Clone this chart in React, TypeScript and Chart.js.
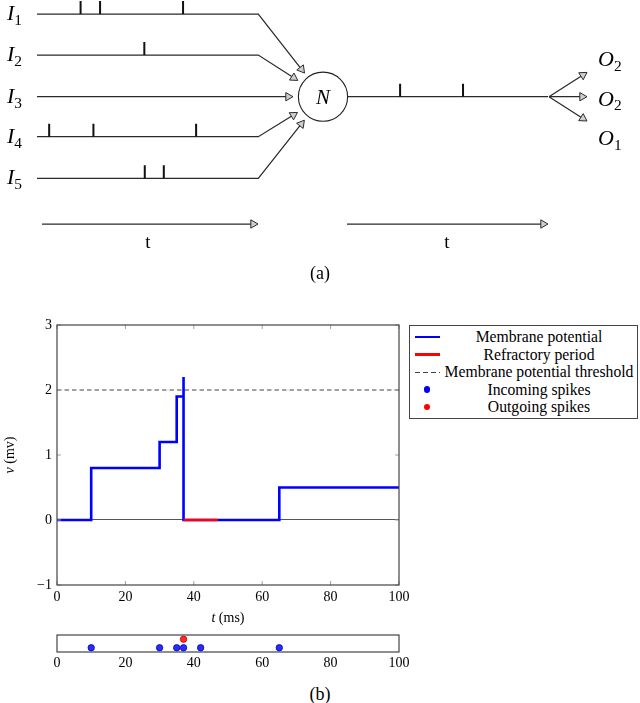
import React, { useEffect, useRef } from "react";
import { Chart, registerables } from "chart.js";
Chart.register(...registerables);

// ---------------- Data ----------------
// (a) spike times along each input / output line (0..100 along the line)
const i1Spikes = [19.7, 28.5, 66.0];
const i2Spikes = [48.5];
const i3Spikes: number[] = [];
const i4Spikes = [5.5, 25.5, 71.9];
const i5Spikes = [48.7, 57.3];
const outSpikes = [26.2, 57.6];
const inputNames = ["1", "2", "3", "4", "5"];
const outputNames = ["2", "2", "1"];

// (b) membrane potential simulation
const potentialTimes = [0, 10, 30, 35, 37, 37, 65, 100];
const potentialValues = [0, 0.8, 1.2, 1.9, 2.2, 0, 0.5, 0.5];
const refractoryTimes = [37, 47];
const refractoryValues = [0, 0];
const thresholdTimes = [0, 100];
const thresholdValues = [2, 2];
const incomingSpikeTimes = [10, 30, 35, 37, 42, 65];
const outgoingSpikeTimes = [37];
const timeTicks = [0, 20, 40, 60, 80, 100];
const voltTicks = [-1, 0, 1, 2, 3];

const seriesLabels = [
  "Membrane potential",
  "Refractory period",
  "Membrane potential threshold",
  "Incoming spikes",
  "Outgoing spikes",
];

// ---------------- Styles / layout ----------------
const BLUE = "#0000ff";
const RED = "#ff0000";
const FONT = '"Liberation Serif", "Times New Roman", serif';
const LINE = "#2a2a2a";

const L = {
  inX0: 37,
  inX1: 258.3,
  inYs: [14, 55, 96.7, 136.7, 178.3],
  cx: 323,
  cy: 96.7,
  r: 24.6,
  tipR: 30,
  outX0: 347.6,
  outX1: 548,
  fanX: 549,
  fanTipX: 587,
  fanDy: 24.3,
  tickH: 13,
  timeY: 224,
  time1: [42, 258],
  time2: [347, 548],
  headR: 4.8,
};

type P = { x: number; y: number | null };

function headAt(fx: number, fy: number, tx: number, ty: number, r: number) {
  const dx = tx - fx;
  const dy = ty - fy;
  const len = Math.hypot(dx, dy);
  const ux = dx / len;
  const uy = dy / len;
  return {
    x: tx - ux * r,
    y: ty - uy * r,
    rot: (Math.atan2(ux, -uy) * 180) / Math.PI,
  };
}

function buildDiagram() {
  const shafts: P[] = [];
  const heads: { x: number; y: number; rot: number }[] = [];
  const ticks: P[] = [];
  const inputSpikes = [i1Spikes, i2Spikes, i3Spikes, i4Spikes, i5Spikes];

  inputSpikes.forEach((spikes, i) => {
    const y = L.inYs[i];
    const dx = L.cx - L.inX1;
    const dy = L.cy - y;
    const len = Math.hypot(dx, dy);
    const tx = L.cx - (dx / len) * L.tipR;
    const ty = L.cy - (dy / len) * L.tipR;
    const h = headAt(L.inX1, y, tx, ty, L.headR);
    shafts.push({ x: L.inX0, y }, { x: L.inX1, y }, { x: h.x, y: h.y }, { x: h.x, y: null });
    heads.push(h);
    spikes.forEach((t) => {
      const x = L.inX0 + (t / 100) * (L.inX1 - L.inX0);
      ticks.push({ x, y }, { x, y: y - L.tickH }, { x, y: null });
    });
  });

  // output line
  shafts.push({ x: L.outX0, y: L.cy }, { x: L.outX1, y: L.cy }, { x: L.outX1, y: null });
  outSpikes.forEach((t) => {
    const x = L.outX0 + (t / 100) * (L.outX1 - L.outX0);
    ticks.push({ x, y: L.cy }, { x, y: L.cy - L.tickH }, { x, y: null });
  });
  // fan-out arrows
  [-1, 0, 1].forEach((k) => {
    const ty = L.cy + k * L.fanDy;
    const h = headAt(L.fanX, L.cy, L.fanTipX, ty, L.headR);
    shafts.push({ x: L.fanX, y: L.cy }, { x: h.x, y: h.y }, { x: h.x, y: null });
    heads.push(h);
  });
  // time arrows
  [L.time1, L.time2].forEach(([a, b]) => {
    const h = headAt(a, L.timeY, b, L.timeY, L.headR);
    shafts.push({ x: a, y: L.timeY }, { x: h.x, y: h.y }, { x: h.x, y: null });
    heads.push(h);
  });
  return { shafts, heads, ticks };
}

const xy = (xs: number[], ys: number[]) => xs.map((x, i) => ({ x, y: ys[i] }));

const frameMain = {
  id: "frameMain",
  afterDraw(chart: any) {
    const { ctx, chartArea: a, scales } = chart;
    ctx.save();
    ctx.strokeStyle = "#a0a0a0";
    ctx.lineWidth = 1;
    ctx.beginPath();
    scales.x.ticks.forEach((t: any) => {
      const px = scales.x.getPixelForValue(t.value);
      ctx.moveTo(px, a.bottom);
      ctx.lineTo(px, a.bottom - 4);
      ctx.moveTo(px, a.top);
      ctx.lineTo(px, a.top + 4);
    });
    scales.y.ticks.forEach((t: any) => {
      const py = scales.y.getPixelForValue(t.value);
      ctx.moveTo(a.left, py);
      ctx.lineTo(a.left + 4, py);
      ctx.moveTo(a.right, py);
      ctx.lineTo(a.right - 4, py);
    });
    ctx.stroke();
    ctx.strokeStyle = "#444";
    ctx.lineWidth = 1.2;
    ctx.strokeRect(a.left, a.top, a.right - a.left, a.bottom - a.top);
    ctx.restore();
  },
};

const frameStrip = {
  id: "frameStrip",
  beforeDatasetsDraw(chart: any) {
    const { ctx, chartArea: a } = chart;
    ctx.save();
    ctx.strokeStyle = "#444";
    ctx.lineWidth = 1.2;
    ctx.strokeRect(a.left, a.top, a.right - a.left, a.bottom - a.top);
    ctx.restore();
  },
};

const fmt = (v: number) => (v < 0 ? "\u2212" + Math.abs(v) : String(v));

function measure(text: string, font: string) {
  const c = document.createElement("canvas").getContext("2d");
  if (!c) return 0;
  c.font = font;
  return c.measureText(text).width;
}

function Txt(props: {
  x: number;
  y: number;
  size: number;
  italic?: boolean;
  align?: "left" | "center";
  children: React.ReactNode;
}) {
  const { x, y, size, italic, align = "center", children } = props;
  return (
    <div
      style={{
        position: "absolute",
        left: x,
        top: y,
        transform: align === "center" ? "translate(-50%,-50%)" : "translateY(-50%)",
        fontSize: size,
        fontStyle: italic ? "italic" : "normal",
        lineHeight: 1,
        whiteSpace: "nowrap",
        color: "#000",
      }}
    >
      {children}
    </div>
  );
}

function Sub({ children }: { children: React.ReactNode }) {
  return (
    <span style={{ position: "relative", top: "0.32em", fontSize: "0.7em", fontStyle: "normal" }}>
      {children}
    </span>
  );
}

export default function App() {
  const diagRef = useRef<HTMLCanvasElement>(null);
  const mainRef = useRef<HTMLCanvasElement>(null);
  const stripRef = useRef<HTMLCanvasElement>(null);

  useEffect(() => {
    Chart.defaults.font.family = FONT;
    Chart.defaults.color = "#000";
    const charts: Chart[] = [];
    const d = buildDiagram();

    charts.push(
      new Chart(diagRef.current!, {
        type: "scatter",
        data: {
          datasets: [
            {
              label: "heads",
              data: d.heads.map((h) => ({ x: h.x, y: h.y })),
              pointStyle: "triangle",
              pointRadius: L.headR,
              pointRotation: d.heads.map((h) => h.rot),
              pointBackgroundColor: "#cfcfcf",
              pointBorderColor: LINE,
              pointBorderWidth: 1,
              clip: false,
              order: 0,
            } as any,
            {
              label: "neuron",
              data: [{ x: L.cx, y: L.cy }],
              pointStyle: "circle",
              pointRadius: L.r,
              pointBackgroundColor: "#fff",
              pointBorderColor: "#222",
              pointBorderWidth: 1.1,
              clip: false,
              order: 1,
            } as any,
            {
              label: "spikes",
              data: d.ticks as any,
              showLine: true,
              spanGaps: false,
              borderColor: "#111",
              borderWidth: 2,
              pointRadius: 0,
              borderCapStyle: "butt",
              clip: false,
              order: 2,
            } as any,
            {
              label: "lines",
              data: d.shafts as any,
              showLine: true,
              spanGaps: false,
              borderColor: LINE,
              borderWidth: 1.25,
              pointRadius: 0,
              clip: false,
              order: 3,
            } as any,
          ],
        },
        options: {
          animation: false,
          responsive: false,
          events: [],
          layout: { padding: 0, autoPadding: false },
          plugins: { legend: { display: false }, tooltip: { enabled: false } },
          scales: {
            x: { type: "linear", min: 0, max: 640, display: false },
            y: { type: "linear", min: 0, max: 290, reverse: true, display: false },
          },
        },
      } as any)
    );

    charts.push(
      new Chart(mainRef.current!, {
        type: "scatter",
        data: {
          datasets: [
            {
              label: seriesLabels[1],
              data: xy(refractoryTimes, refractoryValues),
              showLine: true,
              borderColor: RED,
              borderWidth: 2.6,
              pointRadius: 0,
              order: 0,
            },
            {
              label: seriesLabels[0],
              data: xy(potentialTimes, potentialValues),
              showLine: true,
              stepped: "before",
              borderColor: BLUE,
              borderWidth: 2.6,
              pointRadius: 0,
              borderJoinStyle: "miter",
              order: 1,
            } as any,
            {
              label: seriesLabels[2],
              data: xy(thresholdTimes, thresholdValues),
              showLine: true,
              borderColor: "#444",
              borderWidth: 1,
              borderDash: [4.5, 3],
              pointRadius: 0,
              order: 2,
            },
          ],
        },
        options: {
          animation: false,
          responsive: false,
          events: [],
          layout: { padding: { top: 10, right: 11, left: 0, bottom: 0 }, autoPadding: false },
          plugins: { legend: { display: false }, tooltip: { enabled: false } },
          scales: {
            x: {
              type: "linear",
              min: 0,
              max: 100,
              afterBuildTicks: (s: any) => {
                s.ticks = timeTicks.map((v) => ({ value: v }));
              },
              afterFit: (s: any) => {
                s.height = 45;
              },
              grid: { display: false, drawTicks: true, tickLength: 4, tickColor: "rgba(0,0,0,0)" },
              border: { display: false },
              ticks: { padding: 0, font: { size: 14, family: FONT }, color: "#000", maxRotation: 0 },
            },
            y: {
              type: "linear",
              min: -1,
              max: 3,
              afterBuildTicks: (s: any) => {
                s.ticks = voltTicks.map((v) => ({ value: v }));
              },
              afterFit: (s: any) => {
                s.width = 57;
              },
              grid: {
                drawTicks: true,
                tickLength: 5,
                tickColor: "rgba(0,0,0,0)",
                color: (c: any) => (c.tick && c.tick.value === 0 ? "#555" : "rgba(0,0,0,0)"),
                lineWidth: 1.1,
              },
              border: { display: false },
              ticks: {
                padding: 0,
                font: { size: 14, family: FONT },
                color: "#000",
                callback: (v: any) => fmt(Number(v)),
              },
            },
          },
        },
        plugins: [frameMain],
      } as any)
    );

    charts.push(
      new Chart(stripRef.current!, {
        type: "scatter",
        data: {
          datasets: [
            {
              label: seriesLabels[4],
              data: outgoingSpikeTimes.map((t) => ({ x: t, y: 1 })),
              pointRadius: 3.2,
              pointBackgroundColor: "#ff2a2a",
              pointBorderColor: "#cc0000",
              pointBorderWidth: 0.8,
              clip: false,
            },
            {
              label: seriesLabels[3],
              data: incomingSpikeTimes.map((t) => ({ x: t, y: 0 })),
              pointRadius: 3.2,
              pointBackgroundColor: "#2a2aff",
              pointBorderColor: "#0000b0",
              pointBorderWidth: 0.8,
              clip: false,
            },
          ],
        },
        options: {
          animation: false,
          responsive: false,
          events: [],
          layout: { padding: { top: 7, right: 11, left: 57, bottom: 0 }, autoPadding: false },
          plugins: { legend: { display: false }, tooltip: { enabled: false } },
          scales: {
            x: {
              type: "linear",
              min: 0,
              max: 100,
              afterBuildTicks: (s: any) => {
                s.ticks = timeTicks.map((v) => ({ value: v }));
              },
              afterFit: (s: any) => {
                s.height = 21;
              },
              grid: { display: false, drawTicks: true, tickLength: 3, tickColor: "rgba(0,0,0,0)" },
              border: { display: false },
              ticks: { padding: 0, font: { size: 14, family: FONT }, color: "#000", maxRotation: 0 },
            },
            y: { type: "linear", min: -0.5, max: 1.5, display: false },
          },
        },
        plugins: [frameStrip],
      } as any)
    );

    return () => charts.forEach((c) => c.destroy());
  }, []);

  const legendItems = [
    { label: seriesLabels[0], kind: "line", color: BLUE },
    { label: seriesLabels[1], kind: "line", color: RED },
    { label: seriesLabels[2], kind: "dash", color: "#444" },
    { label: seriesLabels[3], kind: "dot", color: BLUE },
    { label: seriesLabels[4], kind: "dot", color: RED },
  ];
  const refW = measure(seriesLabels[2], `100px ${FONT}`);
  const legendSize = refW > 0 ? Math.min(16, (189 / refW) * 100) : 14;

  return (
    <div
      style={{
        position: "absolute",
        left: 0,
        top: 0,
        width: 640,
        height: 703,
        background: "#fff",
        overflow: "hidden",
        fontFamily: FONT,
      }}
    >
      <canvas
        ref={diagRef}
        width={640}
        height={290}
        style={{ position: "absolute", left: 0, top: 0, width: 640, height: 290 }}
      />
      <canvas
        ref={mainRef}
        width={410}
        height={315}
        style={{ position: "absolute", left: 0, top: 315, width: 410, height: 315 }}
      />
      <canvas
        ref={stripRef}
        width={410}
        height={45}
        style={{ position: "absolute", left: 0, top: 628, width: 410, height: 45 }}
      />

      {/* (a) labels */}
      {inputNames.map((n, i) => (
        <Txt key={"i" + i} x={7} y={L.inYs[i] - 1} size={22} italic align="left">
          I<Sub>{n}</Sub>
        </Txt>
      ))}
      {outputNames.map((n, i) => (
        <Txt key={"o" + i} x={598} y={59 + i * 39.5} size={22} italic align="left">
          O<Sub>{n}</Sub>
        </Txt>
      ))}
      <Txt x={L.cx} y={L.cy} size={21} italic>
        N
      </Txt>
      <Txt x={148} y={241} size={19}>
        t
      </Txt>
      <Txt x={447} y={241} size={19}>
        t
      </Txt>
      <Txt x={320} y={273} size={18}>
        (a)
      </Txt>

      {/* (b) axis titles */}
      <div
        style={{
          position: "absolute",
          left: 10,
          top: 455,
          transform: "translate(-50%,-50%) rotate(-90deg)",
          fontSize: 14,
          lineHeight: 1,
          whiteSpace: "nowrap",
        }}
      >
        <i>v</i> (mv)
      </div>
      <Txt x={228} y={618} size={14}>
        <i>t</i> (ms)
      </Txt>
      <Txt x={320} y={694} size={18}>
        (b)
      </Txt>

      {/* legend */}
      <div
        style={{
          position: "absolute",
          left: 409,
          top: 325,
          width: 229,
          height: 94,
          boxSizing: "border-box",
          border: "1.2px solid #444",
          background: "#fff",
        }}
      >
        {legendItems.map((it, i) => {
          const cy = 11 + i * 17.5;
          let sample: React.ReactNode;
          if (it.kind === "line") {
            sample = (
              <div
                style={{ position: "absolute", left: 5, top: cy - 1.3, width: 25, height: 2.6, background: it.color }}
              />
            );
          } else if (it.kind === "dash") {
            sample = (
              <div
                style={{
                  position: "absolute",
                  left: 5,
                  top: cy - 0.5,
                  width: 25,
                  height: 1,
                  background: `repeating-linear-gradient(to right, ${it.color} 0 4.5px, transparent 4.5px 8px)`,
                }}
              />
            );
          } else {
            sample = (
              <div
                style={{
                  position: "absolute",
                  left: 17 - 3.2,
                  top: cy - 3.2,
                  width: 6.4,
                  height: 6.4,
                  borderRadius: "50%",
                  background: it.color,
                }}
              />
            );
          }
          return (
            <React.Fragment key={it.label}>
              {sample}
              <div
                style={{
                  position: "absolute",
                  left: 33,
                  width: 192,
                  top: cy,
                  transform: "translateY(-50%)",
                  textAlign: "center",
                  fontSize: legendSize,
                  lineHeight: 1,
                  whiteSpace: "nowrap",
                }}
              >
                {it.label}
              </div>
            </React.Fragment>
          );
        })}
      </div>
    </div>
  );
}
